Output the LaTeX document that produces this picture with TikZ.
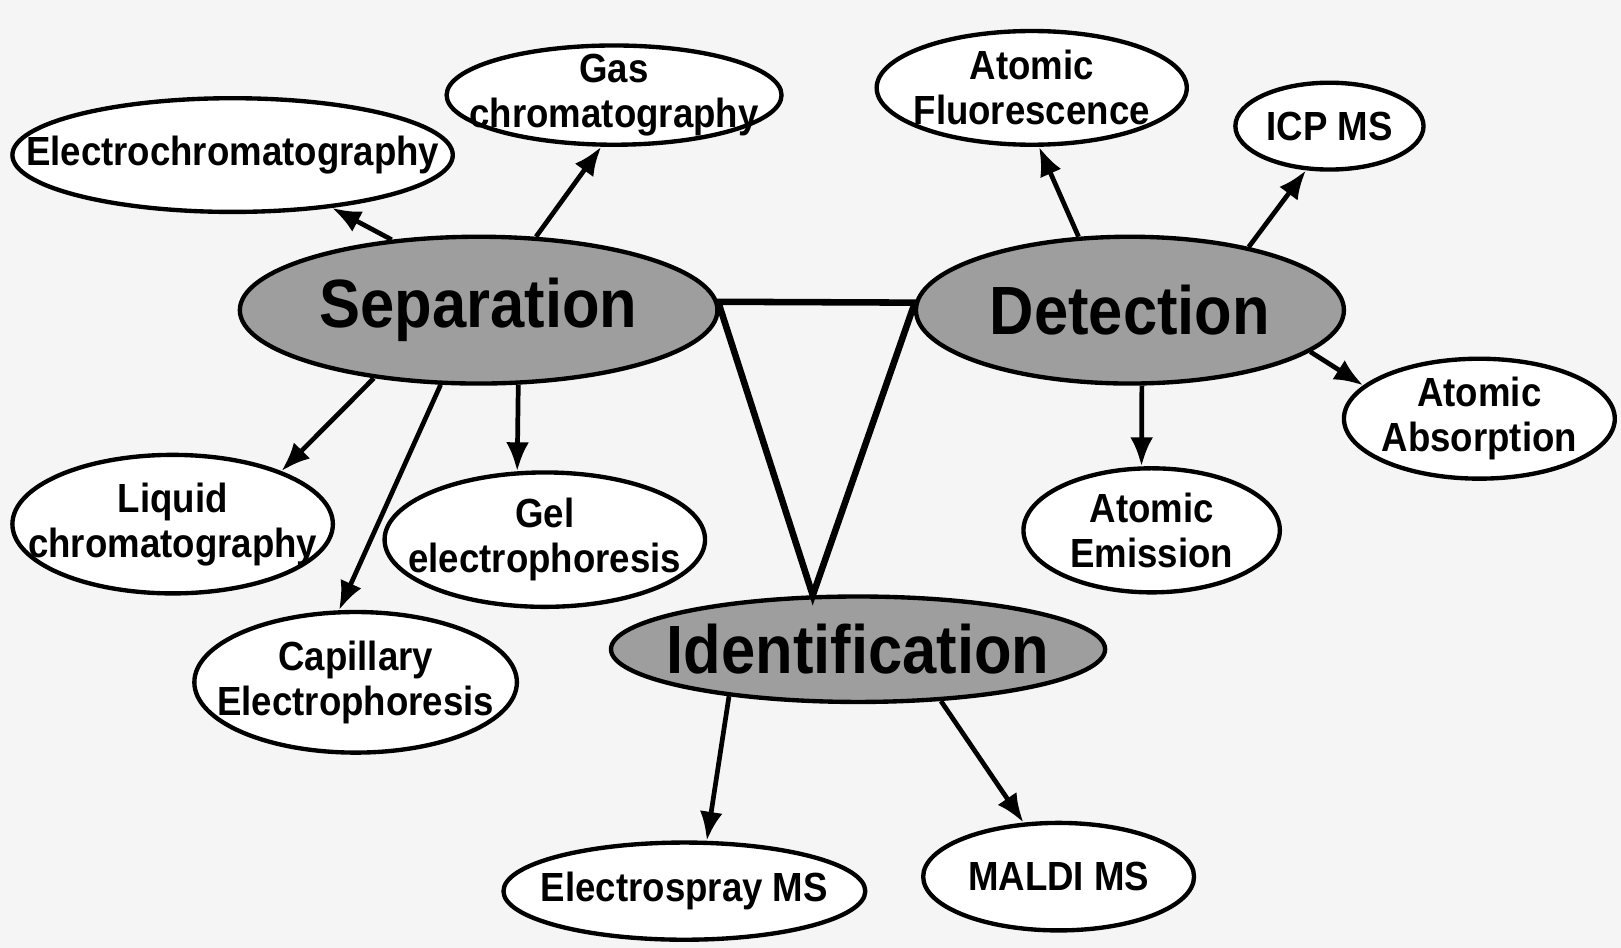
\documentclass[tikz,border=0pt]{standalone}
\usepackage{fontspec}
\setmainfont{Liberation Sans}[FakeStretch=0.9]
\usetikzlibrary{shapes.geometric,arrows.meta}

\begin{document}
\begin{tikzpicture}[x=0.1mm,y=-0.1mm,
  topic/.style={ellipse,draw,line width=1.2pt,fill=black!38,inner sep=-3cm,
    font=\bfseries\fontsize{18.8}{22}\selectfont},
  method/.style={ellipse,draw,line width=1.2pt,fill=white,inner sep=-3cm,align=center,
    font=\bfseries\fontsize{11.2}{12.4}\selectfont},
  link/.style={line width=1.8pt},
  feed/.style={line width=1.3pt,-{Latex[length=2.8mm,width=2.2mm]}}]
\fill[black!4] (0,0) rectangle (1568,917);

% the three main topics
\node[topic,minimum width=46.2mm,minimum height=14.2mm] (sep) at (463,300) {Separation};
\node[topic,minimum width=41.4mm,minimum height=14.2mm] (det) at (1093,300) {Detection};
\node[topic,minimum width=47.8mm,minimum height=10.2mm] (ident) at (830,628) {Identification};

\draw[link] (sep.2) -- (det.178) -- (ident.130) -- cycle;

% separation methods
\node[method,minimum width=42.6mm,minimum height=11mm] (ecg) at (225,150) {Electrochromatography};
\node[method,minimum width=32.4mm,minimum height=9.6mm] (gc) at (594,92) {Gas\\chromatography};
\node[method,minimum width=31mm,minimum height=13.4mm] (lc) at (167,507) {Liquid\\chromatography};
\node[method,minimum width=31mm,minimum height=13mm] (gel) at (527,522) {Gel\\electrophoresis};
\node[method,minimum width=31.2mm,minimum height=13.6mm] (ce) at (344,660) {Capillary\\Electrophoresis};

% detection methods
\node[method,minimum width=30mm,minimum height=11mm] (afs) at (998,85) {Atomic\\Fluorescence};
\node[method,minimum width=18.2mm,minimum height=8.4mm] (icp) at (1286,122) {ICP MS};
\node[method,minimum width=26.2mm,minimum height=11.6mm] (aas) at (1431,405) {Atomic\\Absorption};
\node[method,minimum width=24.8mm,minimum height=12mm] (aes) at (1114,513) {Atomic\\Emission};

% identification methods
\node[method,minimum width=35mm,minimum height=9.4mm] (esi) at (662,862) {Electrospray MS};
\node[method,minimum width=26.2mm,minimum height=10.4mm] (maldi) at (1024,848) {MALDI MS};

\draw[feed] (sep.141) -- (ecg.-28);
\draw[feed] (sep.52) -- (gc.256);
\draw[feed] (sep.213) -- (lc.26);
\draw[feed] (sep.298) -- (gel.112);
\draw[feed] (sep.243) -- (ce.103);

\draw[feed] (det.125) -- (afs.277);
\draw[feed] (det.28) -- (icp.242);
\draw[feed] (det.347) -- (aas.164);
\draw[feed] (det.279) -- (aes.99);

\draw[feed] (ident.200) -- (esi.66);
\draw[feed] (ident.328) -- (maldi.123);
\end{tikzpicture}
\end{document}
